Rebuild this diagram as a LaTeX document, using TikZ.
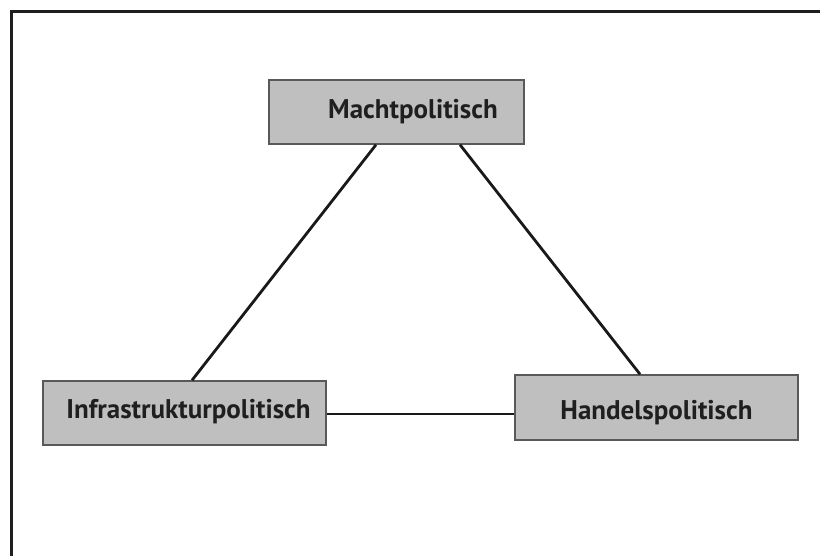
\documentclass[tikz,border=0pt]{standalone}
\usepackage{fontspec}
\setmainfont{PT Sans}
\begin{document}
\begin{tikzpicture}[x=1pt,y=-1pt,
  box/.style={draw=black!65,line width=1.5pt,fill=black!25,inner sep=0pt},
  lbl/.style={anchor=base,inner sep=0pt,
    font=\fontsize{27}{30}\selectfont\bfseries,text=black!88},
  link/.style={line width=2.8pt,black!90},
  frame/.style={line width=3pt,black!88}]
\useasboundingbox (0,0) rectangle (820,556);
% frame lines along the top and left
\draw[frame] (11,556) -- (11,12) -- (820,12);
% the three policy fields
\node[box,minimum width=255pt,minimum height=64pt] (m) at (396.5,112) {};
\node[box,minimum width=283pt,minimum height=64pt] (i) at (184.5,413) {};
\node[box,minimum width=283pt,minimum height=65pt] (h) at (656.5,407.5) {};
\node[lbl] (mt) at (413,118.5) {Machtpolitisch};
\node[lbl] (it) at (188.5,418.5) {Infrastrukturpolitisch};
\node[lbl] (ht) at (656.5,419.5) {Handelspolitisch};
% connections
\draw[link] ([xshift=-20.5pt]m.south) -- ([xshift=7.5pt]i.north);
\draw[link] ([xshift=63.5pt]m.south) -- ([xshift=-16.5pt]h.north);
\draw[link] ([yshift=-1pt]i.east) -- ([yshift=-1pt]i.east -| h.west);
\end{tikzpicture}
\end{document}
